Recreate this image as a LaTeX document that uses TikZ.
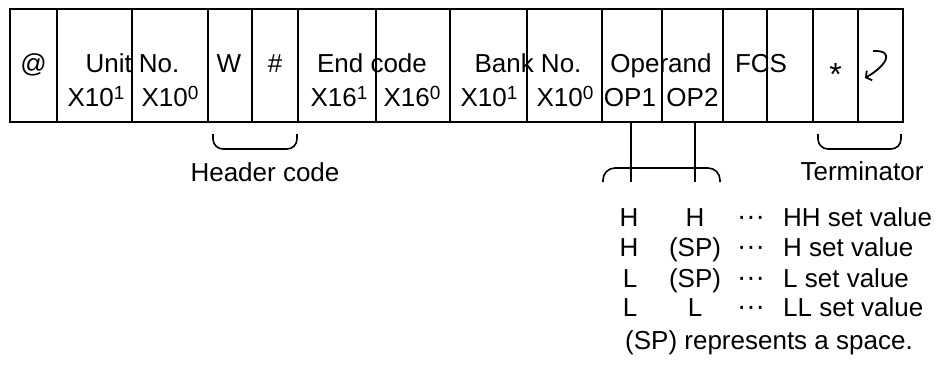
\documentclass[tikz,border=0pt]{standalone}
\usepackage{fontspec}
\setmainfont{Liberation Sans}
\usetikzlibrary{arrows.meta}
\newcommand\supnum[1]{\raisebox{7pt}{\fontsize{19}{19}\selectfont #1}}
\begin{document}
\begin{tikzpicture}[x=1pt,y=-1pt,
  cell/.style={draw,line width=1.6pt,inner sep=0pt,minimum height=113pt},
  lbl/.style={inner sep=0pt,anchor=base,font=\fontsize{26}{30}\selectfont},
  dots/.style={inner sep=0pt,anchor=base,font=\fontsize{28}{28}\selectfont},
  brace/.style={line width=1.6pt,rounded corners=10pt},
  conn/.style={line width=1.6pt}]
\useasboundingbox (0,0) rectangle (937,381);
% cells
\foreach \n/\a/\b in {at/10/57, u1/57/131.7, u2/131.7/208, w/208/252, hs/252/298,
  e1/298/376, e2/376/450, b1/450/527, b2/527/602, o1/602/662, o2/662/723,
  f1/723/767, f2/767/813, t1/813/858, t2/858/903}
  \node[cell,minimum width={\b-\a}] (\n) at ({(\a+\b)/2},65.5) {};
% labels in cells
\node[lbl] (lat) at (33.5,72.5) {@};
\node[lbl] (lunit) at (132.5,72.5) {Unit No.};
\node[lbl] (lu1) at (96,106.5) {X10\supnum{1}};
\node[lbl] (lu2) at (170,106.5) {X10\supnum{0}};
\node[lbl] (lw) at (229,72.5) {W};
\node[lbl] (lhs) at (275,72.5) {\#};
\node[lbl] (lend) at (372,72.5) {End code};
\node[lbl] (le1) at (339,106.5) {X16\supnum{1}};
\node[lbl] (le2) at (412,106.5) {X16\supnum{0}};
\node[lbl] (lbank) at (528,72.5) {Bank No.};
\node[lbl] (lb1) at (489,106.5) {X10\supnum{1}};
\node[lbl] (lb2) at (565,106.5) {X10\supnum{0}};
\node[lbl] (lop) at (661,72.5) {Operand};
\node[lbl] (lo1) at (630,106.5) {OP1};
\node[lbl] (lo2) at (692.5,106.5) {OP2};
\node[lbl] (lfcs) at (761,72.5) {FCS};
\node[lbl,font=\fontsize{32}{32}\selectfont] (last) at (835.5,85) {*};
% return symbol
\coordinate (ra) at (873,51);
\coordinate (rb) at (865,78);
\draw[line width=1.8pt,-{Straight Barb[length=4pt,width=11pt]}] (ra) .. controls (896,50) and (886,66) .. (rb);
% header brace
\coordinate (hb1) at (213,134);
\coordinate (hb2) at (297,134);
\draw[brace] (hb1) -- (213,149) -- (297,149) -- (hb2);
\node[lbl] (lheader) at (265,181.5) {Header code};
% terminator brace
\coordinate (tb1) at (818,134);
\coordinate (tb2) at (901,134);
\draw[brace] (tb1) -- (818,149) -- (901,149) -- (tb2);
\node[lbl] (lterm) at (862,180) {Terminator};
% operand brace and lines
\coordinate (ob1) at (603,182);
\coordinate (ob2) at (720,182);
\draw[brace,rounded corners=12pt] (ob1) -- (603,168) -- (720,168) -- (ob2);
\coordinate (ol1) at (631,182);
\coordinate (ol2) at (695,182);
\draw[conn] (ol1 |- o1.south) -- (ol1);
\draw[conn] (ol2 |- o2.south) -- (ol2);
% table
\node[lbl] (r1a) at (629,226.5) {H};
\node[lbl] (r1b) at (695,226.5) {H};
\node[dots] (r1c) at (751,225) {···};
\node[lbl,anchor=base west] (r1d) at (783,226.5) {HH set value};
\node[lbl] (r2a) at (629,256.5) {H};
\node[lbl] (r2b) at (695,256.5) {(SP)};
\node[dots] (r2c) at (751,255) {···};
\node[lbl,anchor=base west] (r2d) at (783,256.5) {H set value};
\node[lbl] (r3a) at (630,287.5) {L};
\node[lbl] (r3b) at (695,287.5) {(SP)};
\node[dots] (r3c) at (751,286) {···};
\node[lbl,anchor=base west] (r3d) at (783,287.5) {L set value};
\node[lbl] (r4a) at (630,316.5) {L};
\node[lbl] (r4b) at (695,316.5) {L};
\node[dots] (r4c) at (751,315) {···};
\node[lbl,anchor=base west] (r4d) at (783,316.5) {LL set value};
\node[lbl] (lsp) at (769,349.5) {(SP) represents a space.};
\end{tikzpicture}
\end{document}
